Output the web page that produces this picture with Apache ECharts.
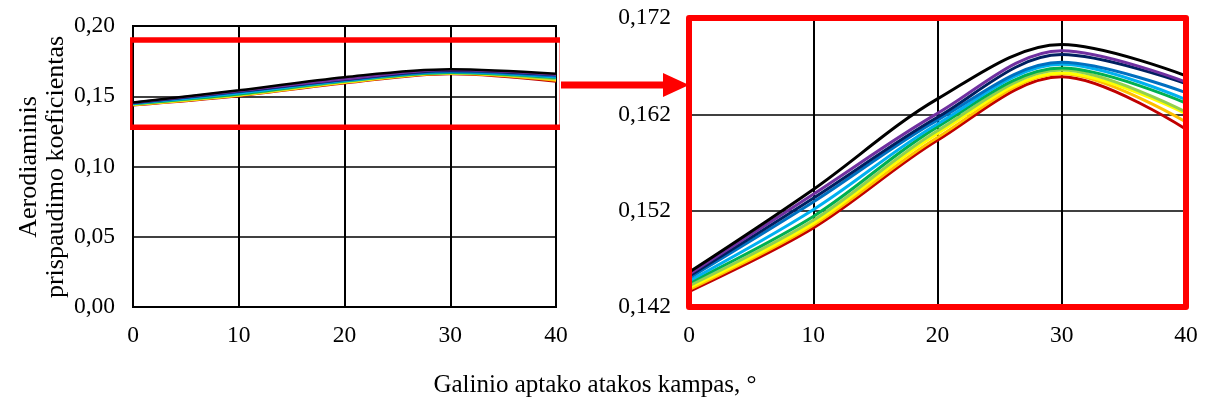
<!DOCTYPE html>
<html><head><meta charset="utf-8">
<script src="https://cdn.jsdelivr.net/npm/echarts@6/dist/echarts.min.js"></script>
<style>html,body{margin:0;padding:0;background:#fff}#c{width:1214px;height:406px}</style>
</head><body><div id="c"></div>
<script>
// Angle of attack (degrees)
const angles = [0, 10, 20, 30, 40];
// Series values (coefficient), one array per curve
const sBlack  = [0.1456, 0.1542, 0.1636, 0.16925, 0.1660];
const sPurple = [0.1454, 0.1537, 0.1621, 0.1686, 0.16535];
const sNavy   = [0.1452, 0.1533, 0.1617, 0.1682, 0.16518];
const sBlue   = [0.1450, 0.1529, 0.1614, 0.1674, 0.16425];
const sLBlue  = [0.1447, 0.1521, 0.1610, 0.1672, 0.16352];
const sGreen  = [0.1445, 0.1514, 0.1607, 0.1668, 0.16317];
const sLGreen = [0.1442, 0.1510, 0.1603, 0.1666, 0.16224];
const sYellow = [0.1440, 0.1507, 0.1600, 0.1663, 0.16207];
const sOrange = [0.1438, 0.1505, 0.1596, 0.1662, 0.1612];
const sRed    = [0.1436, 0.1502, 0.1593, 0.1659, 0.16045];
// Tick labels
const xTicks = [0, 10, 20, 30, 40];
const yTicksLeft = [0, 0.05, 0.10, 0.15, 0.20];
const yTicksRight = [0.142, 0.152, 0.162, 0.172];
// Zoom window shown on the left chart (data units)
const zoomX = [-0.3, 40.6];
const zoomY = [0.128, 0.19];

const seriesList = [
  {name:'black', data:sBlack, color:'#000000'},
  {name:'purple', data:sPurple, color:'#7030A0'},
  {name:'navy', data:sNavy, color:'#002060'},
  {name:'blue', data:sBlue, color:'#0070C0'},
  {name:'lblue', data:sLBlue, color:'#00B0F0'},
  {name:'green', data:sGreen, color:'#00B050'},
  {name:'lgreen', data:sLGreen, color:'#92D050'},
  {name:'yellow', data:sYellow, color:'#FFFF00'},
  {name:'orange', data:sOrange, color:'#FFC000'},
  {name:'red', data:sRed, color:'#C00000'}
];

const FONT = '"Liberation Serif","Times New Roman",serif';
const chart = echarts.init(document.getElementById('c'), null, {renderer:'canvas'});

function xAxisCfg(gi){
  return {type:'value', gridIndex:gi, min:0, max:40, interval:10,
    axisLine:{show:true, onZero:false, lineStyle:{color:'#000', width:2}},
    axisTick:{show:false},
    axisLabel:{color:'#000', fontFamily:FONT, fontSize:23.5, margin:17},
    splitLine:{show:true, lineStyle:{color:'#000', width:2}}};
}

const series = [];
[0,1].forEach(gi=>{
  seriesList.slice().reverse().forEach(s=>{
    series.push({type:'line', name:s.name, xAxisIndex:gi, yAxisIndex:gi,
      data: angles.map((a,i)=>[a, s.data[i]]), smooth:0.34, showSymbol:false, symbol:'none',
      lineStyle:{color:s.color, width: gi===0 ? 2.5 : 3}, itemStyle:{color:s.color},
      z: 3, silent:true});
  });
});
// red zoom box on left chart
series.push({type:'line', xAxisIndex:0, yAxisIndex:0, clip:false, symbol:'none', silent:true, z:10,
  data:[[zoomX[0],zoomY[1]],[zoomX[1],zoomY[1]],[zoomX[1],zoomY[0]],[zoomX[0],zoomY[0]],[zoomX[0],zoomY[1]]],
  lineStyle:{color:'#FF0000', width:5.5, join:'miter', cap:'square'}});
// red frame on right chart
series.push({type:'line', xAxisIndex:1, yAxisIndex:1, clip:false, symbol:'none', silent:true, z:10,
  data:[[0,yTicksRight[0]],[40,yTicksRight[0]],[40,yTicksRight[3]],[0,yTicksRight[3]],[0,yTicksRight[0]]],
  lineStyle:{color:'#FF0000', width:6, join:'round', cap:'round'}});

chart.setOption({
  animation:false,
  backgroundColor:'#fff',
  grid:[
    {left:133, top:26, width:423, height:281, show:true, borderColor:'#000', borderWidth:2, backgroundColor:'transparent'},
    {left:689, top:18, width:497, height:289, show:false}
  ],
  xAxis:[xAxisCfg(0), xAxisCfg(1)],
  yAxis:[
    {type:'value', gridIndex:0, min:yTicksLeft[0], max:yTicksLeft[4], interval:0.05,
      axisLine:{show:true, lineStyle:{color:'#000', width:2}}, axisTick:{show:false},
      axisLabel:{color:'#000', fontFamily:FONT, fontSize:23.5, margin:18, formatter:v=>v.toFixed(2).replace('.',',')},
      splitLine:{show:true, lineStyle:{color:'#000', width:1.5}}},
    {type:'value', gridIndex:1, min:yTicksRight[0], max:yTicksRight[3], interval:0.01,
      axisLine:{show:false}, axisTick:{show:false},
      axisLabel:{color:'#000', fontFamily:FONT, fontSize:23.5, margin:18, formatter:v=>v.toFixed(3).replace('.',',')},
      splitLine:{show:true, lineStyle:{color:'#404040', width:2}}}
  ],
  series: series,
  graphic:[
    {type:'line', shape:{x1:561, y1:85, x2:666, y2:85}, style:{stroke:'#FF0000', lineWidth:7}, z:20},
    {type:'polygon', shape:{points:[[663,73],[689,85],[663,97]]}, style:{fill:'#FF0000'}, z:20},
    {type:'text', x:595, y:385, style:{text:'Galinio aptako atakos kampas, °', font:'25px '+FONT, fill:'#000', align:'center', verticalAlign:'middle'}},
    {type:'text', x:43, y:167, rotation:Math.PI/2, style:{text:'Aerodiaminis\nprispaudimo koeficientas', font:'26px '+FONT, fill:'#000', align:'center', verticalAlign:'middle', lineHeight:27}}
  ]
});
</script></body></html>
